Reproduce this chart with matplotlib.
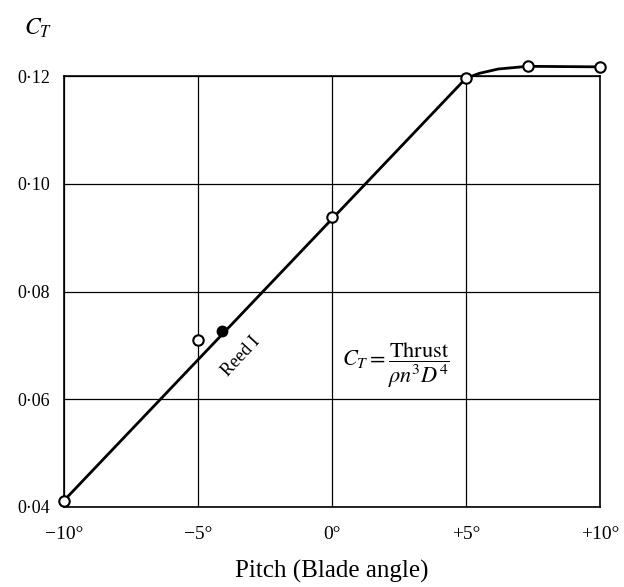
import matplotlib
matplotlib.use('Agg')
from matplotlib import pyplot as plt

plt.rcParams['font.family'] = ['Liberation Serif', 'DejaVu Serif']
plt.rcParams['mathtext.fontset'] = 'stix'

# open circles
pitch = [-10, -5, 0, 5, 7.3, 10]
ct = [0.0412, 0.0710, 0.0938, 0.1196, 0.1218, 0.1217]

# Reed I point
reed_x = [-4.1]
reed_y = [0.0727]

# faired curve through the points
curve_x = [-10, 5, 5.5, 6.2, 7.3, 10]
curve_y = [0.0412, 0.1196, 0.1205, 0.1213, 0.1218, 0.1217]

xticks = [-10, -5, 0, 5, 10]
xlabels = ['\u221210\u00b0', '\u22125\u00b0', '0\u00b0', '+5\u00b0', '+10\u00b0']
yticks = [0.04, 0.06, 0.08, 0.10, 0.12]
ylabels = ['0\u00b704', '0\u00b706', '0\u00b708', '0\u00b710', '0\u00b712']

fig = plt.figure(figsize=(6.24, 5.87), dpi=100)
ax = fig.add_axes([0.1026, 0.1363, 0.859, 0.7342])

ax.plot(curve_x, curve_y, 'k-', lw=2.0, zorder=3, clip_on=False)
ax.plot(pitch, ct, 'o', ms=7.5, mfc='white', mec='black', mew=1.5, zorder=4, clip_on=False)
ax.plot(reed_x, reed_y, 'o', ms=7.5, mfc='black', mec='black', zorder=4)

ax.text(-3.4, 0.0680, 'Reed I', rotation=47, ha='center', va='center', fontsize=13)
ax.text(2.4, 0.0663, r'$C_T = \dfrac{\mathrm{Thrust}}{\rho n^3 D^4}$', ha='center', va='center', fontsize=16)

ax.set_xlim(-10, 10)
ax.set_ylim(0.04, 0.12)
ax.set_xticks(xticks)
ax.set_xticklabels(xlabels, fontsize=14)
ax.set_yticks(yticks)
ax.set_yticklabels(ylabels, fontsize=13)
ax.tick_params(length=0)
ax.tick_params(axis='x', pad=14)
ax.tick_params(axis='y', pad=10)
ax.grid(True, color='black', lw=0.9)
ax.set_axisbelow(True)
for s in ax.spines.values():
    s.set_linewidth(1.2)

ax.set_xlabel('Pitch (Blade angle)', fontsize=18, labelpad=12)
fig.text(0.038, 0.952, r'$C_T$', fontsize=17, ha='left', va='center')

plt.savefig('out.png', dpi=100)
